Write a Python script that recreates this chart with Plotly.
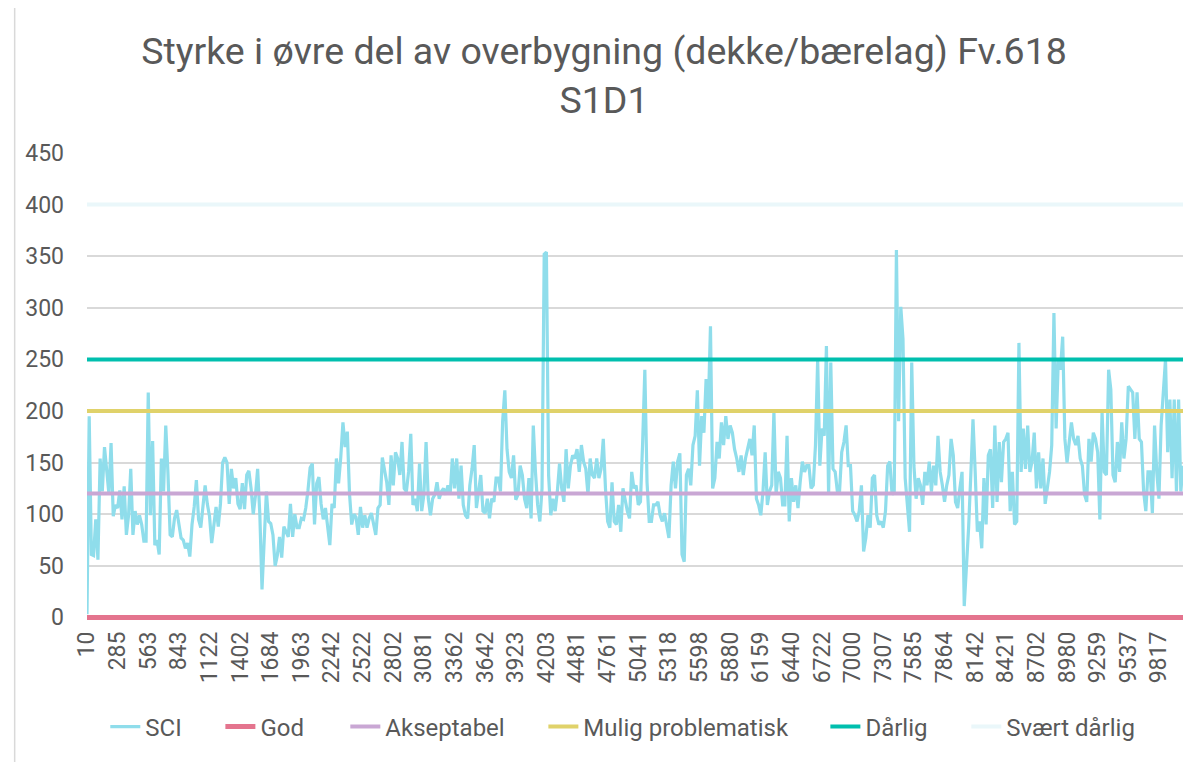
import plotly.graph_objects as go

sci = [
    3, 195, 61, 60, 95, 56, 154, 122, 165, 141, 120, 169, 98, 109, 106, 123, 95,
    127, 80, 99, 144, 80, 103, 90, 99, 90, 74, 74, 218, 99, 171, 70, 75, 61, 154, 122,
    186, 140, 80, 78, 96, 104, 90, 77, 75, 67, 72, 59, 90, 107,
    133, 95, 87, 110, 128, 110, 98, 72, 90, 107, 88, 110, 150, 155, 150, 110, 144,
    125, 135, 110, 105, 130, 105, 138, 142, 125, 100, 118, 144, 100, 27, 80, 122, 93,
    91, 80, 50, 60, 78, 58, 88, 83, 78, 110, 78, 100, 87, 87, 96, 95, 106, 123, 145,
    149, 90, 130, 136, 110, 95, 106, 90, 70, 110, 106, 154, 130, 155, 189,
    165, 180, 120, 90, 100, 97, 80, 107, 87, 99, 87, 96, 101, 90, 80, 106, 109, 155,
    141, 131, 109, 157, 128, 160, 154, 138, 170, 125, 122, 141, 178, 109,
    115, 103, 149, 103, 119, 170, 115, 99, 115, 119, 131, 115, 122, 125, 119, 128,
    119, 154, 125, 154, 115, 147, 109, 99, 96, 128, 144, 167, 106, 125, 138, 103, 101,
    115, 96, 115, 112, 135, 135, 122, 190, 220, 163, 141, 135, 157, 114, 119, 147,
    138, 115, 106, 135, 96, 186, 141, 109, 93, 125, 352, 354, 138, 99, 115, 103, 122,
    149, 125, 112, 163, 125, 147, 157, 154, 163, 141, 167, 151, 144, 119, 154, 138,
    135, 154, 135, 144, 173, 125, 93, 87, 131, 93, 90, 109, 83, 125, 112, 103, 96, 141,
    125, 128, 109, 112, 170, 240, 131, 93, 93, 109, 109, 112, 99, 93, 101, 87, 77, 128,
    151, 125, 151, 159, 61, 54, 138, 144, 128, 167, 176, 220, 147, 195, 179,
    231, 202, 282, 125, 135, 170, 154, 189, 167, 195, 173, 186, 179, 163, 154, 141, 157,
    138, 154, 163, 173, 157, 186, 115, 109, 99, 122, 160, 109, 122, 128, 199, 119,
    141, 135, 109, 109, 176, 93, 135, 112, 128, 106, 131, 151, 141, 147, 147, 125, 128,
    167, 250, 147, 183, 176, 263, 119, 247, 144, 141, 122, 122, 160, 170, 186, 147,
    147, 103, 99, 93, 103, 128, 64, 77, 99, 87, 135, 138, 99, 90, 93, 87, 103, 147, 151,
    119, 122, 356, 190, 301, 270, 135, 109, 83, 247, 147, 115, 135, 128,
    109, 141, 128, 151, 122, 147, 128, 176, 141, 128, 112, 128, 138, 173, 157, 112, 106,
    125, 141, 11, 45, 87, 138, 192, 141, 83, 93, 67, 135, 90, 157, 163, 106, 186,
    112, 170, 131, 170, 173, 179, 103, 141, 90, 93, 266, 141, 183, 144, 186, 141, 151,
    179, 125, 160, 125, 154, 110, 125, 141, 167, 295, 183, 250, 240, 272, 173, 150,
    170, 189, 173, 167, 176, 154, 147, 119, 112, 173, 151, 179, 173, 160, 95, 199, 141,
    138, 240, 221, 138, 131, 170, 141, 189, 154, 173, 224, 221, 218, 173, 218, 173,
    170, 122, 103, 141, 141, 101, 186, 141, 115, 186, 224, 250, 160, 211, 135, 211, 122,
    211, 122, 147,
]

# Distance labels shown on the category axis (every 14th position)
tick_labels = ["10", "285", "563", "843", "1122", "1402", "1684", "1963", "2242",
               "2522", "2802", "3081", "3362", "3642", "3923", "4203", "4481", "4761",
               "5041", "5318", "5598", "5880", "6159", "6440", "6722", "7000", "7307",
               "7585", "7864", "8142", "8421", "8702", "8980", "9259", "9537", "9817"]
label_step = 14

# Threshold classes
class_names = ["God", "Akseptabel", "Mulig problematisk", "Dårlig", "Svært dårlig"]
class_values = [0, 120, 200, 250, 400]
class_colors = ["#E4748E", "#C9A7D4", "#E0D26A", "#00BFAE", "#EAF7FA"]
class_widths = [5, 4, 4, 4, 4]

title_text = "Styrke i øvre del av overbygning (dekke/bærelag) Fv.618<br>S1D1"

# legend entry positions (paper x), one legend box per entry
legend_x = [0.0167, 0.1217, 0.2357, 0.4164, 0.6737, 0.8023]
legend_y = -0.229

n = len(sci)
x = list(range(n))
legend_ids = ["legend"] + ["legend%d" % k for k in range(2, 7)]

fig = go.Figure()
fig.add_trace(go.Scatter(x=x, y=sci, mode="lines", name="SCI", legend=legend_ids[0],
                         line=dict(color="#8FDDEB", width=3.2)))
for k, (name, val, col, w) in enumerate(zip(class_names, class_values, class_colors, class_widths)):
    fig.add_trace(go.Scatter(x=x, y=[val] * n, mode="lines", name=name,
                             legend=legend_ids[k + 1],
                             line=dict(color=col, width=w)))

tickvals = list(range(0, n, label_step))[:len(tick_labels)]

legend_layout = {}
for lid, lx in zip(legend_ids, legend_x):
    legend_layout[lid] = dict(orientation="h", x=lx, xanchor="left", y=legend_y,
                              yanchor="middle", font=dict(size=24, color="#595959"),
                              bgcolor="rgba(0,0,0,0)")

fig.update_layout(
    width=1192, height=754,
    paper_bgcolor="white", plot_bgcolor="white",
    font=dict(family="Roboto", color="#595959", size=23),
    title=dict(text=title_text, x=0.5, xanchor="center", xref="container",
               y=0.926, yanchor="top", yref="container",
               font=dict(size=37.5, color="#595959")),
    margin=dict(l=79, r=17, t=145, b=139.4),
    showlegend=True,
    xaxis=dict(range=[0, n - 1], tickvals=tickvals, ticktext=tick_labels,
               tickangle=-90, showgrid=False, zeroline=False, showline=False,
               ticks="", ticklabelstandoff=6, tickfont=dict(size=23, color="#595959")),
    yaxis=dict(range=[-2.5, 450], tickvals=list(range(0, 451, 50)),
               showgrid=True, gridcolor="#D9D9D9",
               gridwidth=2, zeroline=False, showline=False, ticks="",
               ticklabelstandoff=22, tickfont=dict(size=23, color="#595959")),
    shapes=[dict(type="line", xref="paper", yref="paper",
                 x0=-0.066, x1=-0.066, y0=-0.32, y1=1.32,
                 line=dict(color="#D9D9D9", width=1.5))],
    **legend_layout,
)

fig.write_html("out.html")
